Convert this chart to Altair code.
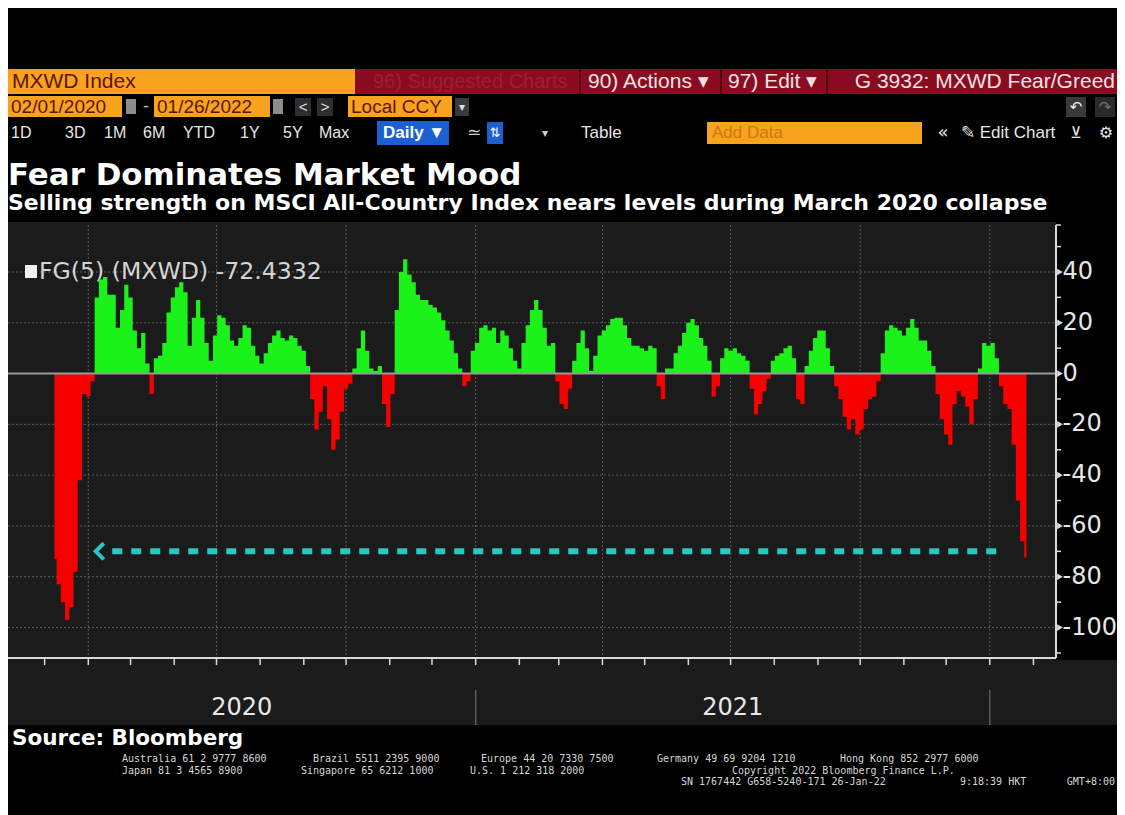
import altair as alt
import pandas as pd

# ------------------------------------------------------------------ data
START = "2020-03-08"          # first plotted session (sampled every 3 days)
STEP_DAYS = 3
FG = [
    -73, -83, -90, -97, -92, -78, -42, -8, -9, -3,
    30, 37, 38, 31, 31, 18, 25, 35, 30, 17,
    10, 16, 4, -8, 6, 7, 12, 24, 30, 34,
    36, 32, 11, 22, 29, 22, 12, 5, 15, 23,
    22, 19, 13, 11, 14, 19, 18, 11, 7, 4,
    8, 12, 15, 17, 14, 13, 15, 14, 11, 9,
    3, -10, -22, -15, -5, -18, -30, -26, -15, -6,
    -4, 2, 10, 17, 9, 2, 1, 3, -12, -21,
    -8, 25, 40, 45, 39, 36, 31, 29, 29, 27,
    26, 24, 21, 17, 13, 8, 2, -5, -3, 9,
    12, 18, 19, 17, 18, 12, 17, 15, 10, 5,
    2, 12, 19, 25, 29, 25, 18, 11, 12, -3,
    -12, -14, -6, 5, 12, 17, 10, 1, 7, 15,
    17, 19, 21.5, 22, 22, 19, 14, 11, 11, 10,
    9, 11, 10, -5, -10, 2, 2, 8, 11, 16,
    20, 21.5, 19, 14, 11, 5, -9, -5, 6, 10,
    9, 10, 8, 7, 5, -6, -16, -12, -7, -2,
    5, 7, 8, 10, 11, 6, -10, -12, 3, 9,
    14, 17, 17, 10, 3, -5, -10, -17, -22, -18,
    -24, -22, -14, -10, -9, -3, 8, 17, 19, 18,
    17, 15, 18, 21.5, 18, 13, 13, 9, 3, -8,
    -18, -24, -28, -12, -7, -9, -13, -20, -10, 2,
    12, 11, 12, 6, -5, -12, -14, -28, -50, -66,
    -72.4,
]
X_DOMAIN = ["2020-02-04", "2022-02-17"]
Y_DOMAIN = [-112, 58.5]
MONTH_TICKS = pd.date_range("2020-03-01", "2022-02-01", freq="MS")
GRID_DATES = ["2020-04-01", "2020-07-01", "2020-10-01", "2021-01-01",
              "2021-04-01", "2021-07-01", "2021-10-01", "2022-01-01"]
Y_GRID = [40, 20, -20, -40, -60, -80, -100]
Y_LABELS = [40, 20, 0, -20, -40, -60, -80, -100]
Y_MINOR = [50, 30, 10, -10, -30, -50, -70, -90, -110]
YEAR_LABELS = ["2020", "2021"]
YEAR_STARTS = ["2021-01-01", "2022-01-01"]
ARROW_LEVEL = -70
ARROW_HEAD = "2020-04-10"
ARROW_FROM = "2020-04-18"
ARROW_TO = "2022-01-12"
LEGEND_TEXT = "FG(5) (MXWD) -72.4332"
TITLE = "Fear Dominates Market Mood"
SUBTITLE = "Selling strength on MSCI All-Country Index nears levels during March 2020 collapse"
SOURCE = "Source: Bloomberg"
FOOT1 = ["Australia 61 2 9777 8600", "Brazil 5511 2395 9000", "Europe 44 20 7330 7500",
         "Germany 49 69 9204 1210", "Hong Kong 852 2977 6000"]
FOOT2 = ["Japan 81 3 4565 8900", "Singapore 65 6212 1000", "U.S. 1 212 318 2000",
         "Copyright 2022 Bloomberg Finance L.P."]
FOOT3 = ["SN 1767442 G658-5240-171 26-Jan-22", "9:18:39 HKT", "GMT+8:00"]

# ------------------------------------------------------------------ styles
OFF = 8
W, H = 1109, 807
BG = "#000000"
PANEL = "#1b1b1b"
GRIDC = "#5c5c5c"
GREEN = "#1af21a"
RED = "#f80000"
CYAN = "#2ac6c0"
AXIS = "#dadada"
ORANGE = "#f8a21d"
CRIMSON = "#8a0c20"
BROWN = "#5c1500"
SANS = "DejaVu Sans"
MONO = "DejaVu Sans Mono"
NARROW = "Liberation Sans Narrow, Liberation Sans, sans-serif"


def ms(d):
    return int(pd.Timestamp(d).value // 1_000_000)


XS = alt.Scale(domain=[ms(X_DOMAIN[0]), ms(X_DOMAIN[1])], range=[0, 1048], nice=False, zero=False)
YS = alt.Scale(domain=Y_DOMAIN, range=[650, 217], nice=False, zero=False)


def X(f):
    return alt.X(f, type="quantitative", scale=XS, axis=None)


def Y(f):
    return alt.Y(f, type="quantitative", scale=YS, axis=None)


ONE = alt.Data(values=[{"k": 0}])


def box(x1, y1, x2, y2, color, **kw):
    return alt.Chart(ONE).mark_rect(color=color, **kw).encode(
        x=alt.value(x1 - OFF), x2=alt.value(x2 - OFF),
        y=alt.value(y1 - OFF), y2=alt.value(y2 - OFF))


def txt(s, x, y, size, color, font=SANS, weight="normal", align="left", baseline="middle"):
    return alt.Chart(ONE).mark_text(text=s, font=font, fontSize=size, color=color,
                                    fontWeight=weight, align=align, baseline=baseline).encode(
        x=alt.value(x - OFF), y=alt.value(y - OFF))


# ------------------------------------------------------------------ frames
dates = pd.date_range(START, periods=len(FG), freq=f"{STEP_DAYS}D")
series = pd.DataFrame({
    "t": [ms(d) for d in dates],
    "pos": [max(v, 0) for v in FG],
    "neg": [min(v, 0) for v in FG],
    "zero": [0] * len(FG),
})
month_df = pd.DataFrame({"t": [ms(d) for d in MONTH_TICKS]})
vgrid_df = pd.DataFrame({"t": [ms(d) for d in GRID_DATES],
                         "top": [Y_DOMAIN[1]] * len(GRID_DATES),
                         "bot": [Y_DOMAIN[0]] * len(GRID_DATES)})
hgrid_df = pd.DataFrame({"v": Y_GRID})
ylab_df = pd.DataFrame({"v": Y_LABELS, "lab": [str(v) for v in Y_LABELS]})
minor_df = pd.DataFrame({"v": Y_MINOR + [Y_DOMAIN[1]]})
zero_df = pd.DataFrame({"v": [0]})
bottom_df = pd.DataFrame({"v": [Y_DOMAIN[0]]})
raxis_df = pd.DataFrame({"top": [Y_DOMAIN[1]], "bot": [Y_DOMAIN[0]]})
ystart_df = pd.DataFrame({"t": [ms(d) for d in YEAR_STARTS]})
year_mid = [(ms(X_DOMAIN[0]) + ms(YEAR_STARTS[0])) // 2, (ms(YEAR_STARTS[0]) + ms(YEAR_STARTS[1])) // 2]
year_df = pd.DataFrame({"t": year_mid, "lab": YEAR_LABELS})
arrow_df = pd.DataFrame({"t0": [ms(ARROW_FROM)], "t1": [ms(ARROW_TO)], "v": [ARROW_LEVEL]})
head_df = pd.DataFrame({"t": [ms(ARROW_HEAD)], "v": [ARROW_LEVEL]})

layers = []

# ------------------------------------------------------------------ header
HT = "#f3e2e2"
layers += [
    box(8, 69, 355, 94, ORANGE),
    box(355, 69, 1125, 94, CRIMSON),
    box(579, 69, 581, 94, "#55000e"),
    box(720, 69, 722, 94, "#55000e"),
    box(826, 69, 828, 94, "#55000e"),
    txt("MXWD Index", 12, 82, 21, BROWN, NARROW),
    txt("96) Suggested Charts", 373, 82, 20, "#9c1f30", NARROW),
    txt("90) Actions \u25be", 588, 82, 21, HT, NARROW),
    txt("97) Edit \u25be", 728, 82, 21, HT, NARROW),
    txt("G 3932: MXWD Fear/Greed", 1115, 82, 21, HT, NARROW, align="right"),
    # row 2
    box(8, 96, 122, 117, ORANGE),
    txt("02/01/2020", 11, 107, 19, BROWN, NARROW),
    box(126, 99, 136, 114, "#8c8c8c"),
    txt("-", 146, 107, 18, "#bbbbbb", NARROW, align="center"),
    box(154, 96, 270, 117, ORANGE),
    txt("01/26/2022", 157, 107, 19, BROWN, NARROW),
    box(273, 99, 283, 114, "#8c8c8c"),
    box(295, 98, 311, 116, "#2e2e2e"),
    txt("<", 303, 107, 15, "#e0e0e0", NARROW, align="center"),
    box(317, 98, 333, 116, "#2e2e2e"),
    txt(">", 325, 107, 15, "#e0e0e0", NARROW, align="center"),
    box(348, 96, 452, 117, ORANGE),
    txt("Local CCY", 351, 107, 19, BROWN, NARROW),
    box(455, 98, 469, 116, "#3a3a3a"),
    txt("\u25be", 462, 107, 12, "#e0e0e0", SANS, align="center"),
    box(1066, 97, 1086, 117, "#3a3a3a"),
    txt("\u21b6", 1076, 107, 15, "#f0f0f0", SANS, align="center"),
    box(1095, 97, 1115, 117, "#2a2a2a"),
    txt("\u21b7", 1105, 107, 15, "#707070", SANS, align="center"),
    # row 3
    txt("1D", 11, 133, 16, "#e6e6e6", NARROW),
    txt("3D", 65, 133, 16, "#e6e6e6", NARROW),
    txt("1M", 104, 133, 16, "#e6e6e6", NARROW),
    txt("6M", 143, 133, 16, "#e6e6e6", NARROW),
    txt("YTD", 183, 133, 16, "#e6e6e6", NARROW),
    txt("1Y", 240, 133, 16, "#e6e6e6", NARROW),
    txt("5Y", 283, 133, 16, "#e6e6e6", NARROW),
    txt("Max", 319, 133, 16, "#e6e6e6", NARROW),
    box(377, 121, 449, 145, "#1c5fd0"),
    txt("Daily \u25bc", 383, 133, 17, "#ffffff", NARROW, weight="bold"),
    txt("\u2243", 474, 133, 17, "#cfcfcf", SANS, align="center"),
    box(487, 122, 503, 144, "#1c5fd0"),
    txt("\u21c5", 495, 133, 13, "#ffffff", SANS, align="center"),
    txt("\u25be", 545, 133, 12, "#cfcfcf", SANS, align="center"),
    txt("Table", 581, 133, 17, "#e6e6e6", NARROW),
    box(707, 122, 922, 144, ORANGE),
    txt("Add Data", 712, 133, 17, "#c97a10", NARROW),
    txt("\u00ab", 943, 133, 18, "#e6e6e6", SANS, align="center"),
    txt("\u270e Edit Chart", 961, 133, 17, "#e6e6e6", NARROW),
    txt("\u22bb", 1076, 133, 16, "#e6e6e6", SANS, align="center"),
    txt("\u2699", 1106, 133, 16, "#e6e6e6", SANS, align="center"),
    # titles
    txt(TITLE, 8, 185, 30.9, "#ffffff", SANS, weight="bold", baseline="alphabetic"),
    txt(SUBTITLE, 8, 210, 22, "#ffffff", SANS, weight="bold", baseline="alphabetic"),
]

# ------------------------------------------------------------------ panel
layers += [
    box(8, 222, 1056, 725, PANEL),
    box(1056, 660, 1125, 725, PANEL),
]

# grid
layers.append(alt.Chart(hgrid_df).mark_rule(color=GRIDC, strokeWidth=1, strokeDash=[2, 2]).encode(
    y=Y("v"), x=alt.value(0), x2=alt.value(1048)))
layers.append(alt.Chart(vgrid_df).mark_rule(color=GRIDC, strokeWidth=1, strokeDash=[2, 2]).encode(
    x=X("t"), y=Y("top"), y2=alt.Y2("bot")))

# legend
layers.append(box(25, 265, 37, 278, "#f0f0f0"))
layers.append(txt(LEGEND_TEXT, 39, 272, 23.6, "#d4d4d4", SANS))

# series
layers.append(alt.Chart(series).mark_area(color=GREEN, interpolate="step").encode(
    x=X("t"), y=Y("pos"), y2=alt.Y2("zero")))
layers.append(alt.Chart(series).mark_area(color=RED, interpolate="step").encode(
    x=X("t"), y=Y("neg"), y2=alt.Y2("zero")))

# zero line
layers.append(alt.Chart(zero_df).mark_rule(color="#9a9a9a", strokeWidth=2).encode(
    y=Y("v"), x=alt.value(0), x2=alt.value(1048)))

# dashed arrow
layers.append(alt.Chart(arrow_df).mark_rule(color=CYAN, strokeWidth=6, strokeDash=[10, 9]).encode(
    x=X("t0"), x2=alt.X2("t1"), y=Y("v")))
layers.append(alt.Chart(head_df).mark_point(shape="M0.35,-1L-0.65,0L0.35,1", filled=False,
                                            strokeWidth=4, color=CYAN, size=260, opacity=1).encode(
    x=X("t"), y=Y("v")))

# axes
layers.append(alt.Chart(bottom_df).mark_rule(color=AXIS, strokeWidth=2).encode(
    y=Y("v"), x=alt.value(0), x2=alt.value(1048)))
layers.append(alt.Chart(month_df).mark_rule(color=AXIS, strokeWidth=1.5).encode(
    x=X("t"), y=alt.value(651), y2=alt.value(657)))
layers.append(alt.Chart(raxis_df).mark_rule(color=AXIS, strokeWidth=2).encode(
    x=alt.value(1048), y=Y("top"), y2=alt.Y2("bot")))
layers.append(alt.Chart(minor_df).mark_rule(color=AXIS, strokeWidth=1.5).encode(
    x=alt.value(1048), x2=alt.value(1053), y=Y("v")))
layers.append(alt.Chart(ylab_df).mark_point(shape="triangle-right", filled=True, size=45,
                                            color=AXIS, opacity=1).encode(
    x=alt.value(1052), y=Y("v")))
layers.append(alt.Chart(ylab_df).mark_text(align="left", baseline="middle", font=SANS,
                                           fontSize=24, color="#e6e6e6").encode(
    x=alt.value(1054.5), y=Y("v"), text="lab:N"))

# year band
layers.append(alt.Chart(ystart_df).mark_rule(color="#5a5a5a", strokeWidth=1.5).encode(
    x=X("t"), y=alt.value(682), y2=alt.value(717)))
layers.append(alt.Chart(year_df).mark_text(align="center", baseline="middle", font=SANS,
                                           fontSize=24, color="#e8e8e8").encode(
    x=X("t"), y=alt.value(700), text="lab:N"))

# footer
FS = 10
FC = "#d6d6d6"
L1, L2, L3 = 759, 770.5, 782
layers += [
    txt(SOURCE, 12, 745, 21.5, "#ffffff", SANS, weight="bold", baseline="alphabetic"),
    txt(FOOT1[0], 122, L1, FS, FC, MONO),
    txt(FOOT1[1], 313, L1, FS, FC, MONO),
    txt(FOOT1[2], 481, L1, FS, FC, MONO),
    txt(FOOT1[3], 657, L1, FS, FC, MONO),
    txt(FOOT1[4], 840, L1, FS, FC, MONO),
    txt(FOOT2[0], 122, L2, FS, FC, MONO),
    txt(FOOT2[1], 301, L2, FS, FC, MONO),
    txt(FOOT2[2], 470, L2, FS, FC, MONO),
    txt(FOOT2[3], 732, L2, FS, FC, MONO),
    txt(FOOT3[0], 681, L3, FS, FC, MONO),
    txt(FOOT3[1], 960, L3, FS, FC, MONO),
    txt(FOOT3[2], 1115, L3, FS, FC, MONO, align="right"),
]

chart = alt.layer(*layers).properties(
    width=W, height=H, background=BG, padding=0,
    autosize=alt.AutoSizeParams(type="none"),
).configure_view(stroke=None)

chart.save("out.html", embed_options={"renderer": "svg", "actions": False})
